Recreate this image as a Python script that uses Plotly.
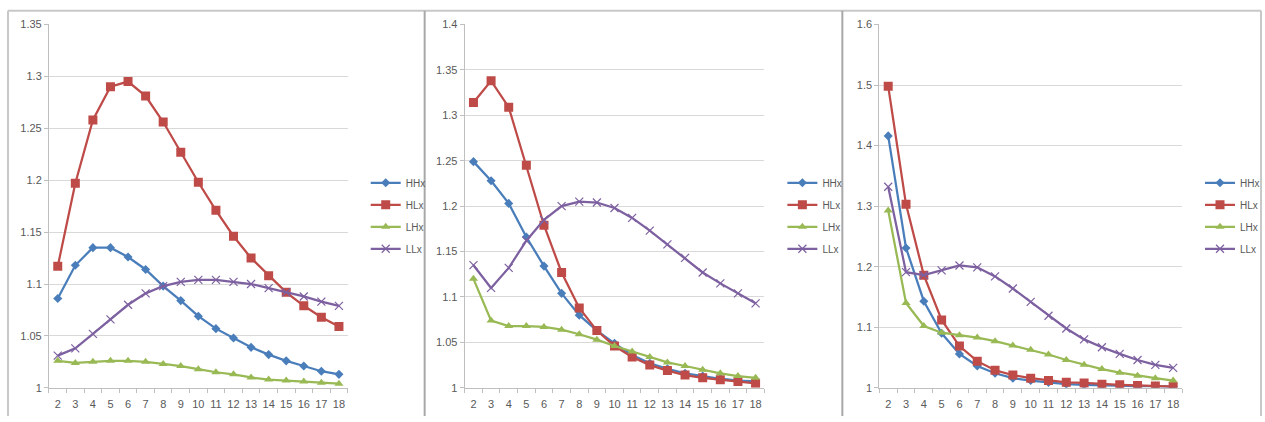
import plotly.graph_objects as go

categories = [str(i) for i in range(2, 19)]
series_names = ["HHx", "HLx", "LHx", "LLx"]

# Panel 1
p1_HHx = [1.086, 1.118, 1.135, 1.135, 1.126, 1.114, 1.098, 1.084, 1.069, 1.057, 1.048, 1.039, 1.032, 1.026, 1.021, 1.016, 1.013]
p1_HLx = [1.117, 1.197, 1.258, 1.290, 1.295, 1.281, 1.256, 1.227, 1.198, 1.171, 1.146, 1.125, 1.108, 1.092, 1.079, 1.068, 1.059]
p1_LHx = [1.026, 1.024, 1.025, 1.026, 1.026, 1.025, 1.023, 1.021, 1.018, 1.015, 1.013, 1.010, 1.008, 1.007, 1.006, 1.005, 1.004]
p1_LLx = [1.031, 1.038, 1.052, 1.066, 1.080, 1.091, 1.098, 1.102, 1.104, 1.104, 1.102, 1.100, 1.096, 1.092, 1.088, 1.083, 1.079]

# Panel 2
p2_HHx = [1.249, 1.228, 1.203, 1.166, 1.134, 1.104, 1.080, 1.063, 1.049, 1.036, 1.027, 1.021, 1.016, 1.013, 1.010, 1.008, 1.007]
p2_HLx = [1.314, 1.338, 1.309, 1.245, 1.179, 1.127, 1.088, 1.063, 1.046, 1.034, 1.025, 1.019, 1.014, 1.011, 1.009, 1.007, 1.005]
p2_LHx = [1.120, 1.074, 1.068, 1.068, 1.067, 1.064, 1.059, 1.053, 1.046, 1.040, 1.034, 1.028, 1.024, 1.020, 1.016, 1.013, 1.011]
p2_LLx = [1.135, 1.110, 1.132, 1.162, 1.185, 1.200, 1.205, 1.204, 1.198, 1.187, 1.173, 1.158, 1.143, 1.127, 1.115, 1.104, 1.093]

# Panel 3
p3_HHx = [1.416, 1.231, 1.143, 1.090, 1.056, 1.036, 1.024, 1.016, 1.012, 1.009, 1.006, 1.005, 1.004, 1.004, 1.003, 1.003, 1.002]
p3_HLx = [1.498, 1.303, 1.186, 1.112, 1.069, 1.044, 1.029, 1.021, 1.016, 1.012, 1.009, 1.008, 1.006, 1.005, 1.004, 1.003, 1.002]
p3_LHx = [1.293, 1.140, 1.102, 1.091, 1.087, 1.083, 1.077, 1.070, 1.063, 1.055, 1.046, 1.038, 1.031, 1.025, 1.020, 1.016, 1.012]
p3_LLx = [1.332, 1.191, 1.186, 1.194, 1.202, 1.199, 1.184, 1.164, 1.142, 1.119, 1.098, 1.080, 1.067, 1.056, 1.046, 1.038, 1.033]

y_ranges = [(1.0, 1.35, 0.05), (1.0, 1.4, 0.05), (1.0, 1.6, 0.1)]

W, H = 1265, 422
colors = ["#4A7EBB", "#BE4B48", "#98B954", "#7D60A0"]
symbols = ["diamond", "square", "triangle-up", "x-thin-open"]
msizes = [7, 9, 8, 8]

panels = [
    [p1_HHx, p1_HLx, p1_LHx, p1_LLx],
    [p2_HHx, p2_HLx, p2_LHx, p2_LLx],
    [p3_HHx, p3_HLx, p3_LHx, p3_LLx],
]
# plot area pixel boxes (left, right)
plot_x = [(49, 348), (465, 765), (880, 1183)]
plot_top, plot_bottom = 19, 393
legend_x = [366, 783, 1201]

fig = go.Figure()
font_family = "Liberation Sans, Arial, sans-serif"
tick_font = dict(family=font_family, size=11, color="#595959")

for pi, data in enumerate(panels):
    xa = "x" if pi == 0 else f"x{pi+1}"
    ya = "y" if pi == 0 else f"y{pi+1}"
    lg = "legend" if pi == 0 else f"legend{pi+1}"
    for si, vals in enumerate(data):
        fig.add_trace(go.Scatter(
            x=categories, y=vals, name=series_names[si], mode="lines+markers",
            line=dict(color=colors[si], width=2.25),
            marker=dict(symbol=symbols[si], size=msizes[si], color=colors[si],
                        line=dict(color=colors[si], width=1.2 if si == 3 else 0)),
            xaxis=xa, yaxis=ya, legend=lg, legendgroup=f"{pi}-{si}",
        ))
    l, r = plot_x[pi]
    ymin, ymax, dt = y_ranges[pi]
    xkey = "xaxis" if pi == 0 else f"xaxis{pi+1}"
    ykey = "yaxis" if pi == 0 else f"yaxis{pi+1}"
    fig.update_layout(**{
        xkey: dict(domain=[l / W, r / W], anchor=ya, type="category",
                   range=[-0.5, len(categories) - 0.5], tickson="boundaries",
                   tickangle=0, ticklabelstandoff=6,
                   showgrid=False, showline=True, linecolor="#BFBFBF", linewidth=1,
                   ticks="outside", ticklen=4, tickcolor="#BFBFBF",
                   tickfont=tick_font, zeroline=False, fixedrange=True),
        ykey: dict(domain=[1 - plot_bottom / H, 1 - plot_top / H], anchor=xa,
                   range=[ymin, ymax], dtick=dt, tick0=1.0,
                   showgrid=True, gridcolor="#D9D9D9", gridwidth=1,
                   showline=True, linecolor="#BFBFBF", linewidth=1,
                   ticks="outside", ticklen=4, tickcolor="#BFBFBF",
                   tickfont=tick_font, zeroline=False, fixedrange=True),
        lg: dict(x=legend_x[pi] / W, y=1 - 167 / H, xanchor="left", yanchor="top",
                 font=dict(family=font_family, size=10, color="#595959"),
                 itemwidth=30, tracegroupgap=3, bgcolor="rgba(0,0,0,0)"),
    })

shapes = []
frame_color = "#C8C8C8"
shapes.append(dict(type="line", xref="paper", yref="paper", x0=8 / W, x1=1262 / W,
                   y0=1 - 5 / H, y1=1 - 5 / H, line=dict(color=frame_color, width=2)))
for xv, c in [(8, frame_color), (425, "#A8A8A8"), (843, "#A8A8A8"), (1262, frame_color)]:
    shapes.append(dict(type="line", xref="paper", yref="paper", x0=xv / W, x1=xv / W,
                       y0=0, y1=1 - 5 / H, line=dict(color=c, width=2)))

fig.update_layout(
    width=W, height=H, margin=dict(l=0, r=0, t=0, b=0),
    paper_bgcolor="white", plot_bgcolor="white",
    shapes=shapes, showlegend=True,
)

fig.write_html("out.html")
